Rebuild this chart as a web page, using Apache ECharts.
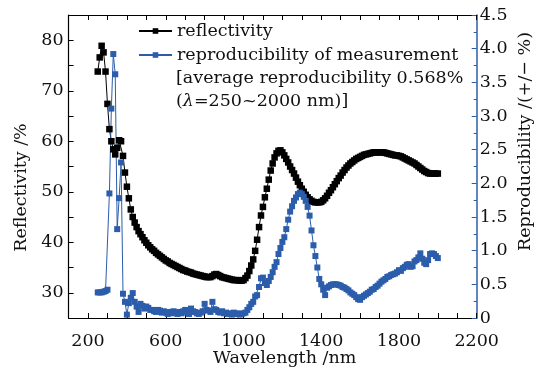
<!DOCTYPE html>
<html><head><meta charset="utf-8">
<script src="https://cdn.jsdelivr.net/npm/echarts@6/dist/echarts.min.js"></script>
<style>html,body{margin:0;padding:0;background:#fff}#c{width:550px;height:371px}</style>
</head><body><div id="c"></div>
<script>
const wavelength = [
250,260,270,280,290,300,310,320,330,340,
350,360,370,380,390,400,410,420,430,440,
450,460,470,480,490,500,510,520,530,540,
550,560,570,580,590,600,610,620,630,640,
650,660,670,680,690,700,710,720,730,740,
750,760,770,780,790,800,810,820,830,840,
850,860,870,880,890,900,910,920,930,940,
950,960,970,980,990,1000,1010,1020,1030,1040,
1050,1060,1070,1080,1090,1100,1110,1120,1130,1140,
1150,1160,1170,1180,1190,1200,1210,1220,1230,1240,
1250,1260,1270,1280,1290,1300,1310,1320,1330,1340,
1350,1360,1370,1380,1390,1400,1410,1420,1430,1440,
1450,1460,1470,1480,1490,1500,1510,1520,1530,1540,
1550,1560,1570,1580,1590,1600,1610,1620,1630,1640,
1650,1660,1670,1680,1690,1700,1710,1720,1730,1740,
1750,1760,1770,1780,1790,1800,1810,1820,1830,1840,
1850,1860,1870,1880,1890,1900,1910,1920,1930,1940,
1950,1960,1970,1980,1990,2000];
const reflectivity = [
73.8,76.6,78.9,77.6,73.8,67.4,62.4,60.0,58.4,57.4,
58.7,60.2,60.0,57.1,53.8,51.0,48.7,46.5,45.0,43.9,
43.0,42.2,41.6,41.0,40.4,39.9,39.4,39.0,38.6,38.3,
37.9,37.6,37.3,37.0,36.7,36.4,36.2,35.9,35.7,35.5,
35.3,35.1,34.9,34.7,34.5,34.4,34.2,34.1,34.0,33.8,
33.7,33.6,33.5,33.4,33.3,33.2,33.1,33.1,33.1,33.3,
33.6,33.7,33.5,33.3,33.1,33.0,32.9,32.8,32.7,32.6,
32.5,32.5,32.5,32.4,32.4,32.5,32.9,33.4,34.3,35.4,
36.6,38.3,40.5,43.0,45.3,47.0,48.9,50.6,52.4,54.2,
55.6,56.8,57.6,58.1,58.2,57.8,57.2,56.5,55.8,55.0,
54.3,53.6,52.8,52.0,51.3,50.6,50.0,49.4,48.9,48.5,
48.2,48.0,47.9,47.9,47.9,48.0,48.3,48.7,49.2,49.8,
50.3,50.9,51.5,52.1,52.7,53.2,53.8,54.3,54.8,55.2,
55.6,55.9,56.2,56.5,56.7,56.9,57.1,57.3,57.4,57.5,
57.6,57.7,57.8,57.8,57.8,57.8,57.8,57.8,57.7,57.6,
57.5,57.4,57.3,57.2,57.2,57.1,57.0,56.8,56.6,56.4,
56.2,56.0,55.8,55.6,55.3,55.0,54.7,54.4,54.1,53.9,
53.7,53.6,53.6,53.6,53.6,53.6];
const reproducibility = [
0.38,0.38,0.38,0.39,0.40,0.42,1.85,3.11,3.92,3.62,
1.32,1.78,2.31,0.36,0.24,0.05,0.22,0.30,0.37,0.24,
0.17,0.09,0.21,0.18,0.14,0.17,0.15,0.12,0.12,0.10,
0.09,0.12,0.11,0.08,0.10,0.08,0.06,0.09,0.07,0.10,
0.08,0.06,0.09,0.07,0.10,0.12,0.08,0.06,0.14,0.10,
0.09,0.07,0.06,0.08,0.10,0.21,0.12,0.11,0.09,0.24,
0.13,0.12,0.09,0.08,0.10,0.07,0.08,0.06,0.07,0.05,
0.08,0.06,0.07,0.05,0.06,0.07,0.08,0.12,0.16,0.21,
0.24,0.32,0.34,0.46,0.59,0.60,0.52,0.49,0.55,0.61,
0.68,0.76,0.83,0.95,1.04,1.13,1.20,1.32,1.46,1.58,
1.66,1.74,1.79,1.84,1.86,1.84,1.80,1.74,1.65,1.52,
1.30,1.08,0.92,0.75,0.58,0.50,0.42,0.34,0.45,0.47,
0.49,0.50,0.50,0.50,0.49,0.48,0.46,0.45,0.43,0.41,
0.38,0.36,0.34,0.31,0.28,0.27,0.31,0.33,0.35,0.37,
0.39,0.42,0.43,0.46,0.48,0.51,0.54,0.56,0.58,0.61,
0.62,0.64,0.65,0.66,0.68,0.71,0.70,0.74,0.76,0.79,
0.80,0.76,0.77,0.84,0.86,0.90,0.96,0.88,0.82,0.80,
0.86,0.95,0.96,0.95,0.92,0.89];
const xTickLabels = [200,600,1000,1400,1800,2200];
const leftTickLabels = [30,40,50,60,70,80];
const rightTickLabels = ['0','0.5','1.0','1.5','2.0','2.5','3.0','3.5','4.0','4.5'];
const seriesNames = ['reflectivity','reproducibility of measurement'];
const noteLines = ['[average reproducibility 0.568%', '({i|λ}=250~2000 nm)]'];

const FONT = "'DejaVu Serif', serif";
const FS = 17.5;
const BLUE = '#2b5dab';
const chart = echarts.init(document.getElementById('c'), null, {renderer:'canvas'});
const tickStyle = (color) => ({show:true, inside:true, length:5, lineStyle:{color:color, width:1}});
chart.setOption({
  animation:false,
  backgroundColor:'#fff',
  grid:{left:68.6, right:73.3, top:15, bottom:53, containLabel:false, outerBoundsMode:'none'},
  legend:{
    data:seriesNames, orient:'vertical', left:138, top:22, padding:0, itemWidth:33, itemHeight:7, itemGap:6,
    textStyle:{fontFamily:FONT, fontSize:FS, color:'#111'}
  },
  graphic:[
    {type:'text', left:176, top:69, style:{text:noteLines[0], font:FS+'px '+FONT, fill:'#111'}},
    {type:'text', left:176, top:92, style:{text:noteLines[1], font:FS+'px '+FONT, fill:'#111',
      rich:{i:{fontStyle:'italic', fontFamily:FONT, fontSize:FS, fill:'#111', color:'#111'}}}}
  ],
  xAxis:[{
    type:'value', min:100, max:2200, interval:100,
    name:'Wavelength /nm', nameLocation:'middle', nameGap:31, nameMoveOverlap:false,
    nameTextStyle:{fontFamily:FONT, fontSize:FS, color:'#111', padding:[0,0,0,24]},
    axisLine:{show:true, lineStyle:{color:'#000', width:1.2}},
    axisTick:tickStyle('#000'),
    axisLabel:{fontFamily:FONT, fontSize:FS, color:'#111', margin:14,
      formatter:v => xTickLabels.includes(v) ? String(v) : ''},
    splitLine:{show:false}
  },{
    type:'value', position:'top', min:100, max:2200, interval:100,
    axisLine:{show:true, lineStyle:{color:'#000', width:1.2}},
    axisTick:tickStyle('#000'), axisLabel:{show:false}, splitLine:{show:false}
  }],
  yAxis:[{
    type:'value', min:25, max:85, interval:5, position:'left',
    name:'Reflectivity /%', nameLocation:'middle', nameGap:38, nameRotate:90, nameMoveOverlap:false,
    nameTextStyle:{fontFamily:FONT, fontSize:FS, color:'#111', padding:[0,42,0,0]},
    axisLine:{show:true, lineStyle:{color:'#000', width:1.2}},
    axisTick:tickStyle('#000'),
    axisLabel:{fontFamily:FONT, fontSize:FS, color:'#111', margin:5,
      formatter:v => leftTickLabels.includes(v) ? String(v) : ''},
    splitLine:{show:false}
  },{
    type:'value', min:0, max:4.5, interval:0.5, position:'right',
    name:'Reproducibility /(+/\u2212 %)', nameLocation:'middle', nameGap:40, nameRotate:90, nameMoveOverlap:false,
    nameTextStyle:{fontFamily:FONT, fontSize:FS, color:'#111', padding:[0,0,0,50]},
    axisLine:{show:true, lineStyle:{color:BLUE, width:1.5}},
    axisTick:tickStyle(BLUE),
    minorTick:{show:true, splitNumber:2, length:3, lineStyle:{color:BLUE}},
    axisLabel:{fontFamily:FONT, fontSize:FS, color:'#111', margin:3,
      formatter:v => rightTickLabels[Math.round(v*2)]},
    splitLine:{show:false}
  }],
  series:[{
    name:seriesNames[0], type:'line', xAxisIndex:0, yAxisIndex:0,
    data:wavelength.map((w,i)=>[w, reflectivity[i]]),
    symbol:'rect', symbolSize:6.5, showAllSymbol:true,
    itemStyle:{color:'#000'}, lineStyle:{color:'#000', width:1}
  },{
    name:seriesNames[1], type:'line', xAxisIndex:0, yAxisIndex:1,
    data:wavelength.map((w,i)=>[w, reproducibility[i]]),
    symbol:'rect', symbolSize:6, showAllSymbol:true,
    itemStyle:{color:BLUE}, lineStyle:{color:BLUE, width:1}
  }]
});
</script></body></html>
